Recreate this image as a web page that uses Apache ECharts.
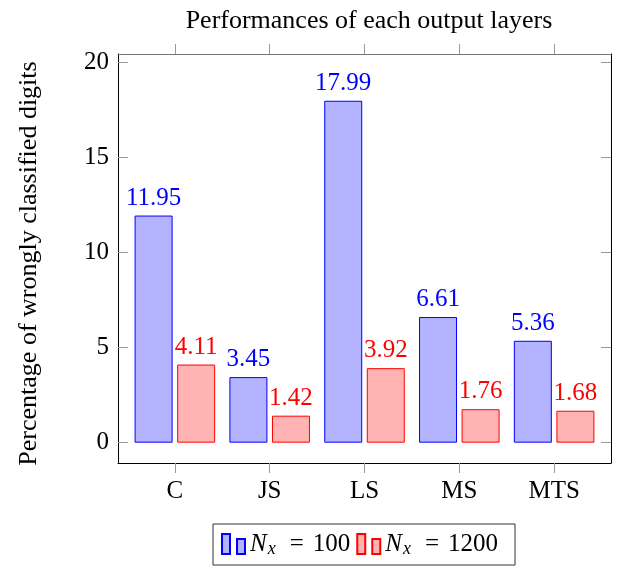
<!DOCTYPE html>
<html><head><meta charset="utf-8">
<script src="https://cdn.jsdelivr.net/npm/echarts@6/dist/echarts.min.js"></script>
<style>html,body{margin:0;padding:0;background:#fff}#c{width:624px;height:567px}</style>
</head><body><div id="c"></div>
<script>
const categories = ['C', 'JS', 'LS', 'MS', 'MTS'];
const valuesNx100 = [11.95, 3.45, 17.99, 6.61, 5.36];
const valuesNx1200 = [4.11, 1.42, 3.92, 1.76, 1.68];
const nxValues = [100, 1200];
const yTickValues = [0, 5, 10, 15, 20];
const titleText = 'Performances of each output layers';
const yAxisTitle = 'Percentage of wrongly classified digits';

const F = '"Liberation Serif", "Times New Roman", serif';
const xTickValues = categories.map((c, i) => i);
const seriesNames = nxValues.map(v => 'Nx = ' + v);
const blueFill = '#b3b3ff', blueLine = '#0000ff';
const redFill = '#ffb3b3', redLine = '#ff0000';
const legendIcon = 'path://M0,0L8,0L8,20L0,20Z M15,5L23,5L23,20L15,20Z';

const chart = echarts.init(document.getElementById('c'), null, {renderer: 'canvas'});
const xRange = {min: -0.6, max: 4.6};
const yRange = {min: -1.07, max: 20.45};

function barSeries(idx, values, fill, line) {
  return {
    type: 'bar',
    name: seriesNames[idx],
    xAxisIndex: 0, yAxisIndex: 0,
    data: values.map((v, i) => [i, v]),
    barWidth: 38,
    barGap: '12%',
    itemStyle: {color: fill, borderColor: line, borderWidth: 1},
    label: {
      show: true, position: 'top', distance: 5,
      formatter: p => p.value[1].toFixed(2),
      fontFamily: F, fontSize: 25, color: line
    },
    emphasis: {disabled: true}
  };
}

chart.setOption({
  animation: false,
  backgroundColor: '#fff',
  title: {
    text: titleText, left: 364, top: 3, textAlign: 'center',
    textStyle: {fontFamily: F, fontSize: 26, fontWeight: 'normal', color: '#000'}
  },
  grid: {left: 118, right: 13, top: 54, bottom: 104, containLabel: false},
  xAxis: [{
    type: 'value', position: 'bottom', ...xRange,
    axisLine: {show: true, onZero: false, lineStyle: {color: '#000', width: 1}},
    axisTick: {show: true, inside: false, length: 10, customValues: xTickValues, lineStyle: {color: '#999'}},
    axisLabel: {show: true, customValues: xTickValues, formatter: v => categories[Math.round(v)],
      fontFamily: F, fontSize: 25, color: '#000', margin: 16},
    splitLine: {show: false}
  }, {
    type: 'value', position: 'top', ...xRange,
    axisLine: {show: true, onZero: false, lineStyle: {color: '#777', width: 1}},
    axisTick: {show: true, inside: false, length: 10, customValues: xTickValues, lineStyle: {color: '#999'}},
    axisLabel: {show: false},
    splitLine: {show: false}
  }],
  yAxis: [{
    type: 'value', position: 'left', ...yRange,
    axisLine: {show: true, onZero: false, lineStyle: {color: '#000', width: 1}},
    axisTick: {show: true, inside: true, length: 10, customValues: yTickValues, lineStyle: {color: '#999'}},
    axisLabel: {show: true, customValues: yTickValues, fontFamily: F, fontSize: 25, color: '#000', margin: 9},
    splitLine: {show: false},
    name: yAxisTitle, nameLocation: 'middle', nameRotate: 90, nameGap: 76,
    nameTextStyle: {fontFamily: F, fontSize: 26, color: '#000', padding: [0, 10, 0, 0]}
  }, {
    type: 'value', position: 'right', ...yRange,
    axisLine: {show: true, onZero: false, lineStyle: {color: '#000', width: 1}},
    axisTick: {show: true, inside: true, length: 10, customValues: yTickValues, lineStyle: {color: '#999'}},
    axisLabel: {show: false},
    splitLine: {show: false}
  }],
  legend: {
    left: 213, top: 524, orient: 'horizontal',
    data: seriesNames.map(n => ({name: n, icon: legendIcon})),
    itemWidth: 23, itemHeight: 20, itemGap: 6,
    padding: [6, 17, 7, 8],
    borderColor: '#333', borderWidth: 1,
    selectedMode: false,
    formatter: name => '{i|N}{s|x}{e|=}{t|' + nxValues[seriesNames.indexOf(name)] + '}',
    textStyle: {
      fontFamily: F, fontSize: 25, color: '#000',
      rich: {
        i: {fontFamily: F, fontStyle: 'italic', fontSize: 25, color: '#000', padding: [0, 1, 0, 0]},
        s: {fontFamily: F, fontStyle: 'italic', fontSize: 18, lineHeight: 18, color: '#000', padding: [10, 0, 0, 0]},
        e: {fontFamily: F, fontSize: 25, color: '#000', padding: [0, 9, 0, 14]},
        t: {fontFamily: F, fontSize: 25, color: '#000'}
      }
    }
  },
  series: [
    barSeries(0, valuesNx100, blueFill, blueLine),
    barSeries(1, valuesNx1200, redFill, redLine)
  ]
});
</script></body></html>
